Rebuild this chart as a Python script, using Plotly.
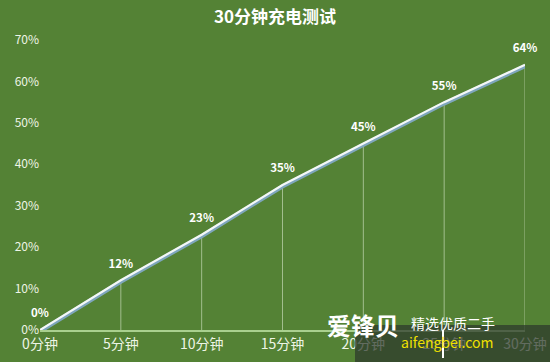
import plotly.graph_objects as go

minutes = [0, 5, 10, 15, 20, 25, 30]
x_labels = ["0分钟", "5分钟", "10分钟", "15分钟", "20分钟", "25分钟", "30分钟"]
charge = [0, 12, 23, 35, 45, 55, 64]
y_ticks = [0, 10, 20, 30, 40, 50, 60, 70]
y_tick_labels = ["0%", "10%", "20%", "30%", "40%", "50%", "60%", "70%"]

BG = "#548235"
FONT = "Noto Sans CJK SC, Noto Sans, sans-serif"

W, H = 550, 362
ML, MR, MT, MB = 40, 25, 40, 32
PW, PH = W - ML - MR, H - MT - MB


def px(x):
    return (x - ML) / PW


def py(y):
    return (H - MB - y) / PH


fig = go.Figure()

# drop lines
for xv, yv in zip(minutes, charge):
    fig.add_trace(go.Scatter(x=[xv, xv], y=[0, yv], mode="lines",
                             line=dict(color="rgba(225,240,215,0.55)", width=1),
                             hoverinfo="skip", showlegend=False))

# shadow
fig.add_trace(go.Scatter(x=minutes, y=[v - 0.35 for v in charge], mode="lines",
                         line=dict(color="#7fa6bd", width=4),
                         hoverinfo="skip", showlegend=False))
# main line
fig.add_trace(go.Scatter(x=minutes, y=charge, mode="lines+markers+text",
                         line=dict(color="#f4f8f8", width=2.2),
                         marker=dict(size=14, color="rgba(0,0,0,0)"),
                         text=[f"<b>{v}%</b>" for v in charge], textposition="top center",
                         textfont=dict(color="white", size=11.5, family=FONT),
                         cliponaxis=False, showlegend=False))

fig.update_layout(
    width=W, height=H,
    paper_bgcolor=BG, plot_bgcolor=BG,
    margin=dict(l=ML, r=MR, t=MT, b=MB, autoexpand=False),
    title=dict(text="<b>30分钟充电测试</b>", x=0.5, xanchor="center", y=0.953, yanchor="middle",
               font=dict(color="white", size=17, family=FONT)),
    font=dict(family=FONT, color="white"),
    xaxis=dict(range=[0, 30], tickvals=minutes, ticktext=x_labels, showgrid=False,
               zeroline=False, showline=True, linecolor="#a9d08e", linewidth=2,
               tickfont=dict(size=14, color="#eef5e6", family=FONT), ticks="",
               automargin=False, fixedrange=True),
    yaxis=dict(range=[0, 70], tickvals=y_ticks, ticktext=y_tick_labels, showgrid=False,
               zeroline=False, showline=False, ticks="", ticklen=0,
               tickfont=dict(size=12, color="#eef5e6", family=FONT),
               automargin=False, fixedrange=True),
)

# watermark overlay
fig.add_shape(type="rect", xref="paper", yref="paper", x0=px(355), x1=px(552), y0=py(363), y1=py(325),
              line=dict(width=0), fillcolor="rgba(45,55,45,0.72)", layer="above")
fig.add_shape(type="line", xref="paper", yref="paper", x0=px(443), x1=px(443), y0=py(358), y1=py(330),
              line=dict(color="white", width=2), layer="above")
fig.add_annotation(x=px(401), y=py(344), xref="paper", yref="paper", text="<b>爱锋贝</b>",
                   showarrow=False, font=dict(color="white", size=24, family=FONT))
fig.add_annotation(x=px(497), y=py(335), xref="paper", yref="paper", text="精选优质二手",
                   showarrow=False, font=dict(color="white", size=14, family=FONT))
fig.add_annotation(x=px(496), y=py(354), xref="paper", yref="paper", text="aifengbei.com",
                   showarrow=False, font=dict(color="#f0e000", size=14, family=FONT))

fig.write_html("out.html", config={"displayModeBar": False},
               post_script="document.body.style.margin='0';")
